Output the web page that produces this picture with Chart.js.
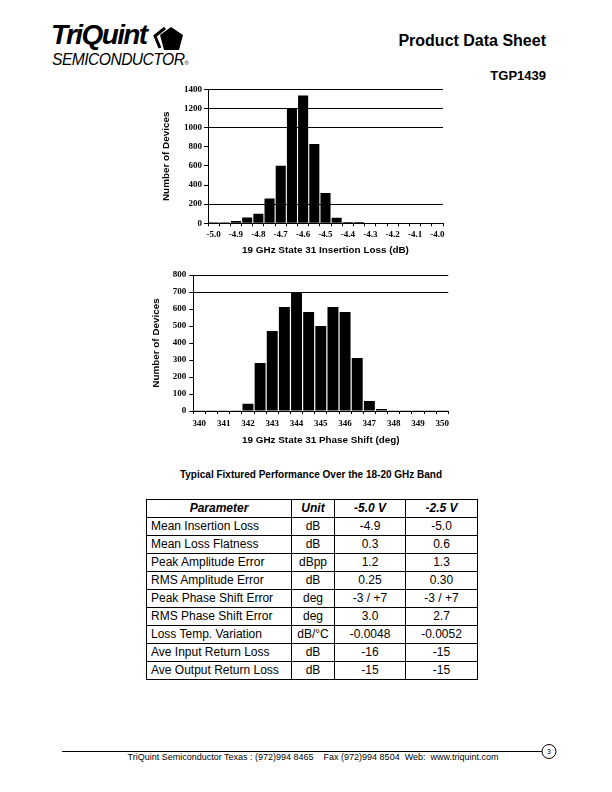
<!DOCTYPE html>
<html>
<head>
<meta charset="utf-8">
<script src="https://cdn.jsdelivr.net/npm/chart.js@4.4.0/dist/chart.umd.min.js"></script>
<style>
  html, body { margin: 0; padding: 0; background: #fff; }
  body { width: 612px; height: 792px; position: relative; overflow: hidden; font-family: 'Liberation Sans', Arial, sans-serif; color: #000; }
  .abs { position: absolute; }
  #logo1 { left: 51px; top: 19px; font-size: 28px; font-weight: bold; font-style: italic; letter-spacing: -1.6px; }
  #logo2 { left: 52px; top: 50px; font-size: 17px; font-style: italic; letter-spacing: -0.6px; transform: scaleX(0.92); transform-origin: left top; }
  #logo2 sup { font-size: 6px; vertical-align: 0; font-style: normal; }
  #pds { right: 66px; top: 32px; font-size: 16px; font-weight: bold; }
  #part { right: 66px; top: 68px; font-size: 13px; font-weight: bold; }
  #ttl { left: 0; width: 622px; top: 469px; text-align: center; font-size: 10px; font-weight: bold; }
  table { position: absolute; left: 146px; top: 499px; border-collapse: collapse; font-size: 12px; }
  td, th { border: 1px solid #000; height: 17px; padding: 0 4px; line-height: 17px; }
  th { font-style: italic; font-weight: bold; text-align: center; }
  td { text-align: center; }
  td:first-child { text-align: left; }
  #foot { left: 0; width: 626px; top: 752px; text-align: center; font-size: 9px; white-space: pre; }
</style>
</head>
<body>
<div id="logo1" class="abs">TriQuint</div>
<div id="logo2" class="abs">SEMICONDUCTOR<sup>®</sup></div>
<svg class="abs" style="left:152px;top:26px" width="34" height="26" viewBox="0 0 34 26">
  <polygon points="19,1 31,9 27,24 12,24 8,9" fill="#000"/>
  <polyline points="13,2 3,10 8,22" fill="none" stroke="#000" stroke-width="3"/>
</svg>
<div id="pds" class="abs">Product Data Sheet</div>
<div id="part" class="abs">TGP1439</div>

<canvas id="c1" class="abs" style="left:150px;top:80px" width="300" height="180"></canvas>
<canvas id="c2" class="abs" style="left:140px;top:265px" width="320" height="185"></canvas>

<div id="ttl" class="abs">Typical Fixtured Performance Over the 18-20 GHz Band</div>
<table>
  <colgroup><col style="width:145px"><col style="width:43px"><col style="width:71px"><col style="width:72px"></colgroup>
  <tr><th>Parameter</th><th>Unit</th><th>-5.0 V</th><th>-2.5 V</th></tr>
  <tr><td>Mean Insertion Loss</td><td>dB</td><td>-4.9</td><td>-5.0</td></tr>
  <tr><td>Mean Loss Flatness</td><td>dB</td><td>0.3</td><td>0.6</td></tr>
  <tr><td>Peak Amplitude Error</td><td>dBpp</td><td>1.2</td><td>1.3</td></tr>
  <tr><td>RMS Amplitude Error</td><td>dB</td><td>0.25</td><td>0.30</td></tr>
  <tr><td>Peak Phase Shift Error</td><td>deg</td><td>-3 / +7</td><td>-3 / +7</td></tr>
  <tr><td>RMS Phase Shift Error</td><td>deg</td><td>3.0</td><td>2.7</td></tr>
  <tr><td>Loss Temp. Variation</td><td>dB/°C</td><td>-0.0048</td><td>-0.0052</td></tr>
  <tr><td>Ave Input Return Loss</td><td>dB</td><td>-16</td><td>-15</td></tr>
  <tr><td>Ave Output Return Loss</td><td>dB</td><td>-15</td><td>-15</td></tr>
</table>

<svg class="abs" style="left:0;top:740px" width="612" height="25">
  <line x1="62" y1="11.5" x2="542" y2="11.5" stroke="#000" stroke-width="1"/>
  <circle cx="549" cy="11.5" r="7" fill="#fff" stroke="#000" stroke-width="1"/>
  <text x="549" y="14" font-size="7" text-anchor="middle" font-family="Liberation Sans">3</text>
</svg>
<div id="foot" class="abs">TriQuint Semiconductor Texas : (972)994 8465    Fax (972)994 8504  Web:  www.triquint.com</div>

<script>
// insertion loss histogram (dB bins of 0.05)
const lossBins = [-5.0, -4.95, -4.9, -4.85, -4.8, -4.75, -4.7, -4.65, -4.6, -4.55, -4.5,
  -4.45, -4.4, -4.35, -4.3, -4.25, -4.2, -4.15, -4.1, -4.05, -4.0];
const lossCounts = [10, 10, 25, 60, 100, 258, 600, 1205, 1334, 829, 317,
  59, 14, 14, 0, 0, 0, 0, 0, 0, 0];
const lossGrid = [200, 1000, 1200, 1400];

// phase shift histogram (deg bins of 0.5)
const phaseBins = [340, 340.5, 341, 341.5, 342, 342.5, 343, 343.5, 344, 344.5, 345,
  345.5, 346, 346.5, 347, 347.5, 348, 348.5, 349, 349.5, 350];
const phaseCounts = [2, 2, 2, 2, 43, 282, 470, 612, 698, 582, 500,
  612, 582, 312, 59, 12, 4, 4, 4, 4, 4];
const phaseGrid = [700, 800];

const tickFont = { family: "'Liberation Serif', 'Times New Roman', serif", size: 9, weight: 'bold' };
const titleFont = { family: "'Liberation Sans', Arial, sans-serif", size: 9.9, weight: 'bold' };

const makeHist = (el, o) => new Chart(el, {
  type: 'bar',
  data: {
    labels: o.bins,
    datasets: [{ data: o.counts, backgroundColor: '#000', borderWidth: 0, barPercentage: 0.9, categoryPercentage: 1 }]
  },
  options: {
    responsive: false,
    animation: false,
    devicePixelRatio: 1,
    layout: { padding: o.pad },
    plugins: { legend: { display: false }, tooltip: { enabled: false } },
    scales: {
      x: {
        offset: true,
        border: { color: '#000', width: 1 },
        grid: { offset: true, drawOnChartArea: false, tickColor: '#000', tickLength: 3 },
        ticks: {
          autoSkip: false, maxRotation: 0, color: '#000', font: tickFont, padding: o.xPad,
          callback: (v, i) => (i % 2 === 0 ? o.fmt(o.bins[i]) : '')
        },
        title: { display: true, text: o.xTitle, color: '#000', font: titleFont, padding: { top: 0, bottom: o.xTitlePad } },
        afterFit: (s) => { s.height = o.xHeight; }
      },
      y: {
        min: 0, max: o.max,
        border: { color: '#000', width: 1 },
        grid: {
          color: (c) => (c.tick && o.grid.includes(c.tick.value) ? '#000' : 'rgba(0,0,0,0)'),
          tickColor: '#000', tickLength: 4, lineWidth: 1
        },
        ticks: { stepSize: o.step, color: '#000', font: tickFont, padding: o.yPad, callback: (v) => String(v) },
        title: { display: true, text: 'Number of Devices', color: '#000', font: titleFont, padding: 0 },
        afterFit: (s) => { s.width = o.yWidth; }
      }
    }
  }
});

makeHist(document.getElementById('c1'), {
  bins: lossBins, counts: lossCounts, grid: lossGrid, max: 1400, step: 200,
  fmt: (v) => v.toFixed(1), xTitle: '19 GHz State 31 Insertion Loss (dB)',
  pad: { left: 10, right: 7, top: 9.3, bottom: 0 }, yWidth: 48, xHeight: 36.7,
  xPad: 3.2, yPad: 2, xTitlePad: 3.4
});

makeHist(document.getElementById('c2'), {
  bins: phaseBins, counts: phaseCounts, grid: phaseGrid, max: 800, step: 100,
  fmt: (v) => String(v), xTitle: '19 GHz State 31 Phase Shift (deg)',
  pad: { left: 10, right: 11.7, top: 10, bottom: 0 }, yWidth: 43.3, xHeight: 39,
  xPad: 4.5, yPad: 3, xTitlePad: 4.1
});
</script>
</body>
</html>
